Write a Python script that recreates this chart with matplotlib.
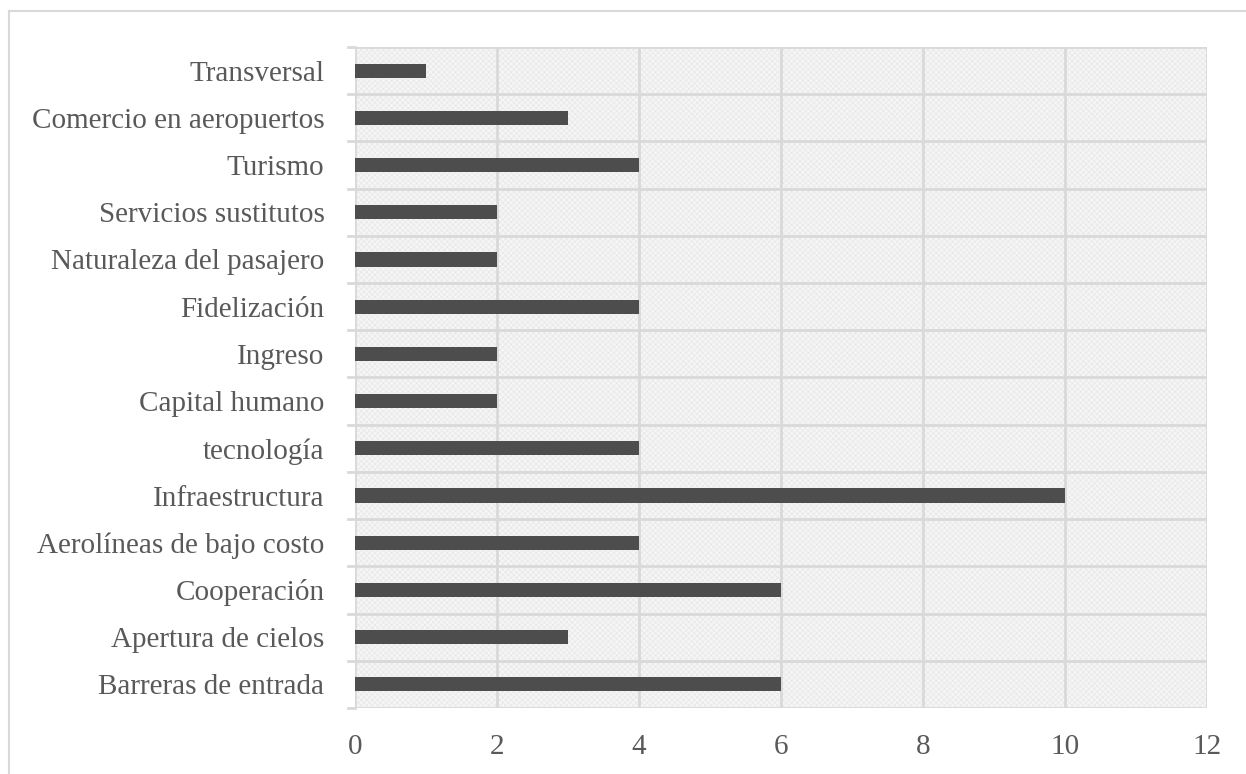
import matplotlib
matplotlib.use("Agg")
import matplotlib.pyplot as plt
from matplotlib.lines import Line2D

plt.rcParams["font.family"] = ["Liberation Serif", "DejaVu Serif"]
plt.rcParams["hatch.linewidth"] = 0.4

# categories bottom to top
categories = [
    "Barreras de entrada",
    "Apertura de cielos",
    "Cooperación",
    "Aerolíneas de bajo costo",
    "Infraestructura",
    "tecnología",
    "Capital humano",
    "Ingreso",
    "Fidelización",
    "Naturaleza del pasajero",
    "Servicios sustitutos",
    "Turismo",
    "Comercio en aeropuertos",
    "Transversal",
]
values = [6, 3, 6, 4, 10, 4, 2, 2, 4, 2, 2, 4, 3, 1]
x_ticks = [0, 2, 4, 6, 8, 10, 12]

grid_col = "#d9d9d9"
text_col = "#595959"

fig = plt.figure(figsize=(12.46, 7.74), dpi=100, facecolor="white")
ax = fig.add_axes([0.2849, 0.0853, 0.6838, 0.854])

ax.patch.set_facecolor("#f5f5f5")
ax.patch.set_hatch("xxxxxx")
ax.patch.set_edgecolor("#e5e5e5")

pos = list(range(len(categories)))
ax.barh(pos, values, height=0.3, color="#4d4d4d", zorder=3)

ax.set_xlim(0, 12)
ax.set_ylim(-0.5, len(categories) - 0.5)
ax.set_xticks(x_ticks)
ax.set_yticks(pos)
ax.set_yticklabels(categories)

# horizontal grid at category boundaries
bounds = [p - 0.5 for p in pos] + [len(categories) - 0.5]
for b in bounds:
    ax.axhline(b, color=grid_col, lw=2, zorder=1)
    ax.plot([-0.1, 0], [b, b], color=grid_col, lw=2, clip_on=False, zorder=1)
for t in x_ticks:
    ax.axvline(t, color=grid_col, lw=2, zorder=1)

for s in ax.spines.values():
    s.set_visible(False)

ax.tick_params(axis="y", length=0, pad=22, labelsize=21, labelcolor=text_col)
ax.tick_params(axis="x", length=0, pad=19, labelsize=21, labelcolor=text_col)

# outer chart border (left and top)
fig.add_artist(Line2D([0.0075, 0.0075], [0, 0.986], color=grid_col, lw=1.5, transform=fig.transFigure))
fig.add_artist(Line2D([0.0075, 1.0], [0.986, 0.986], color=grid_col, lw=1.5, transform=fig.transFigure))

fig.savefig("out.png", dpi=100, facecolor="white")
